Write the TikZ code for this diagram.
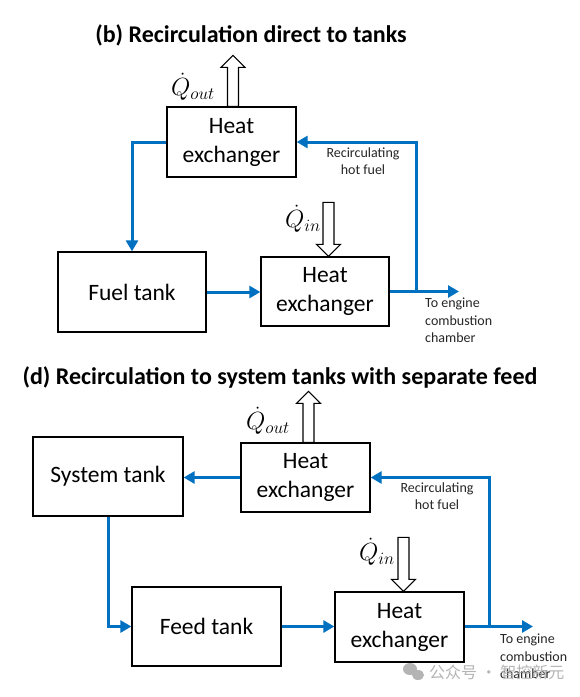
\documentclass[tikz,border=0pt]{standalone}
\usepackage{fontspec}
\setmainfont{Carlito}
\newfontfamily\cjk{Noto Sans CJK SC}
\usetikzlibrary{arrows.meta,calc}
\definecolor{flowblue}{HTML}{0070C0}
\definecolor{wmgray}{HTML}{B4B4B4}
\begin{document}
\begin{tikzpicture}[x=1pt,y=-1pt,
  box/.style={draw=black, line width=1.3pt, fill=white, inner sep=0pt, align=center,
    font=\fontsize{23.5}{29}\selectfont},
  flow/.style={draw=flowblue, line width=3pt, -{Triangle[length=11pt,width=12pt]}},
  hollow/.style={draw=black, line width=1.2pt, fill=white, line join=miter},
  small/.style={font=\fontsize{14}{17.5}\selectfont, align=center, text=black!85},
  smallleft/.style={font=\fontsize{14}{17.5}\selectfont, align=left, text=black!85, inner sep=0pt},
  title/.style={font=\bfseries\fontsize{24}{28}\selectfont},
  qlabel/.style={font=\fontsize{25}{28}\selectfont, inner sep=0pt},
  hollowup/.pic={\draw[hollow] (-5.5,0) -- (-5.5,-39) -- (-12,-39) -- (0,-51) -- (12,-39) -- (5.5,-39) -- (5.5,0) -- cycle;},
  hollowdown/.pic={\draw[hollow] (0,0) -- (-12,-12) -- (-5.5,-12) -- (-5.5,-54) -- (5.5,-54) -- (5.5,-12) -- (12,-12) -- cycle;}
]
\useasboundingbox[fill=white] (0,0) rectangle (580,697);

% ---------------- (b) ----------------
\node[title] (t1) at (251,35) {(b) Recirculation direct to tanks};
\node[box, minimum width=129pt, minimum height=70pt] (hx1) at (231.5,142) {Heat\\exchanger};
\node[box, minimum width=148pt, minimum height=80pt] (ft) at (132,292) {Fuel tank};
\node[box, minimum width=128pt, minimum height=69pt] (hx2) at (325,291.5) {Heat\\exchanger};

\coordinate (qo1) at ([xshift=1.5pt]hx1.north);
\pic at (qo1) {hollowup};
\node[qlabel] (lqo1) at (193,87) {$\dot{Q}_{out}$};
\coordinate (qi1) at ([xshift=3.5pt]hx2.north);
\pic at (qi1) {hollowdown};
\node[qlabel] (lqi1) at (303,219) {$\dot{Q}_{in}$};

\draw[flow] (hx1.west) -| (ft.north);
\draw[flow] (ft.east) -- (hx2.west |- ft.east);
\coordinate (j1) at (416,291.5);
\coordinate (e1) at (459,291.5);
\draw[flow] (hx2.east) -- (e1);
\draw[flow] (j1) |- (hx1.east);
\node[small] (rc1) at (363,161) {Recirculating\\hot fuel};
\node[smallleft, anchor=north west] (en1) at (425,298) {To engine\\combustion\\chamber};

% ---------------- (d) ----------------
\node[title] (t2) at (280,377) {(d) Recirculation to system tanks with separate feed};
\node[box, minimum width=150pt, minimum height=79pt] (st) at (108,476.5) {System tank};
\node[box, minimum width=129pt, minimum height=69pt] (hx3) at (305.5,477.5) {Heat\\exchanger};
\node[box, minimum width=149pt, minimum height=79pt] (fd) at (206.5,626.5) {Feed tank};
\node[box, minimum width=129pt, minimum height=70pt] (hx4) at (399.5,627) {Heat\\exchanger};

\coordinate (qo2) at ([xshift=3pt]hx3.north);
\pic at (qo2) {hollowup};
\node[qlabel] (lqo2) at (268,421) {$\dot{Q}_{out}$};
\coordinate (qi2) at ([xshift=4pt]hx4.north);
\pic at (qi2) {hollowdown};
\node[qlabel] (lqi2) at (377,552) {$\dot{Q}_{in}$};

\draw[flow] (hx3.west) -- (st.east |- hx3.west);
\draw[flow] (st.south) |- (fd.west);
\draw[flow] (fd.east) -- (hx4.west |- fd.east);
\coordinate (j2) at (489,626.5);
\coordinate (e2) at (533,626.5);
\draw[flow] (hx4.east |- fd.east) -- (e2);
\draw[flow] (j2) |- (hx3.east);
\node[small] (rc2) at (437,496) {Recirculating\\hot fuel};
\node[smallleft, anchor=north west] (en2) at (500,634) {To engine\\combustion\\chamber};

% watermark
\fill[wmgray] (410,669) ellipse (7pt and 6pt);
\fill[wmgray] (418,675) ellipse (6pt and 5pt);
\node[font=\cjk\fontsize{16}{18}\selectfont, text=wmgray, anchor=west, inner sep=0pt] (wm) at (429,672) {公众号 · 智控新元};
\end{tikzpicture}
\end{document}
